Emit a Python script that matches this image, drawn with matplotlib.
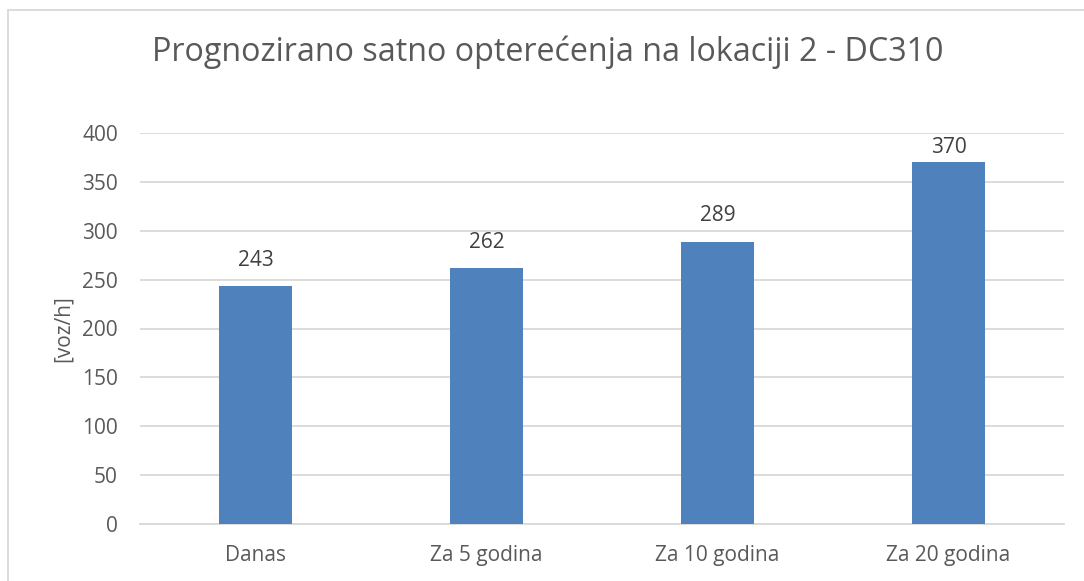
import matplotlib.pyplot as plt
from matplotlib.lines import Line2D

categories = ["Danas", "Za 5 godina", "Za 10 godina", "Za 20 godina"]
values = [243, 262, 289, 370]
yticks = [0, 50, 100, 150, 200, 250, 300, 350, 400]

BAR = "#4F81BD"
GRID = "#D9D9D9"
TXT = "#595959"
LBL = "#404040"

plt.rcParams["font.family"] = ["Open Sans", "DejaVu Sans"]

W, H = 1084, 581
fig = plt.figure(figsize=(W / 100, H / 100), dpi=100)
ax = fig.add_axes([140 / W, (H - 524) / H, 924 / W, 391 / H])

YMAX = 400
x = range(len(categories))
ax.bar(x, values, width=0.316, color=BAR, zorder=3)
for xi, v in zip(x, values):
    if v + 36 <= YMAX:
        ax.annotate(str(v), (xi, v), xytext=(0, 11), textcoords="offset points",
                    ha="center", va="bottom", fontsize=15, color=LBL)
    else:
        # like Excel: keep the label inside the plot area
        ax.annotate(str(v), (xi, YMAX), xytext=(0, -3), textcoords="offset points",
                    ha="center", va="top", fontsize=15, color=LBL)

ax.set_xlim(-0.5, len(categories) - 0.5)
ax.set_ylim(0, YMAX)
ax.set_yticks(yticks)
ax.set_xticks(list(x))
ax.set_xticklabels(categories)
ax.tick_params(axis="both", length=0, labelsize=15, colors=TXT)
ax.tick_params(axis="x", pad=15)
ax.tick_params(axis="y", pad=16)
ax.grid(axis="y", color=GRID, linewidth=1.3, zorder=0)
for s in ["top", "right", "left"]:
    ax.spines[s].set_visible(False)
ax.spines["bottom"].set_color(GRID)
ax.spines["bottom"].set_linewidth(1.3)
ax.set_ylabel("[voz/h]", fontsize=15, color=TXT, labelpad=6)

fig.text(548 / W, 1 - 52 / H, "Prognozirano satno opterećenja na lokaciji 2 - DC310",
         ha="center", va="center", fontsize=23.2, color=TXT)

# outer chart border (left and top edges visible)
fig.add_artist(Line2D([7.5 / W, 7.5 / W], [0, 1 - 10 / H], transform=fig.transFigure,
                      color=GRID, linewidth=1.3))
fig.add_artist(Line2D([7.5 / W, 1], [1 - 10 / H, 1 - 10 / H], transform=fig.transFigure,
                      color=GRID, linewidth=1.3))

fig.savefig("out.png", dpi=100, facecolor="white")
